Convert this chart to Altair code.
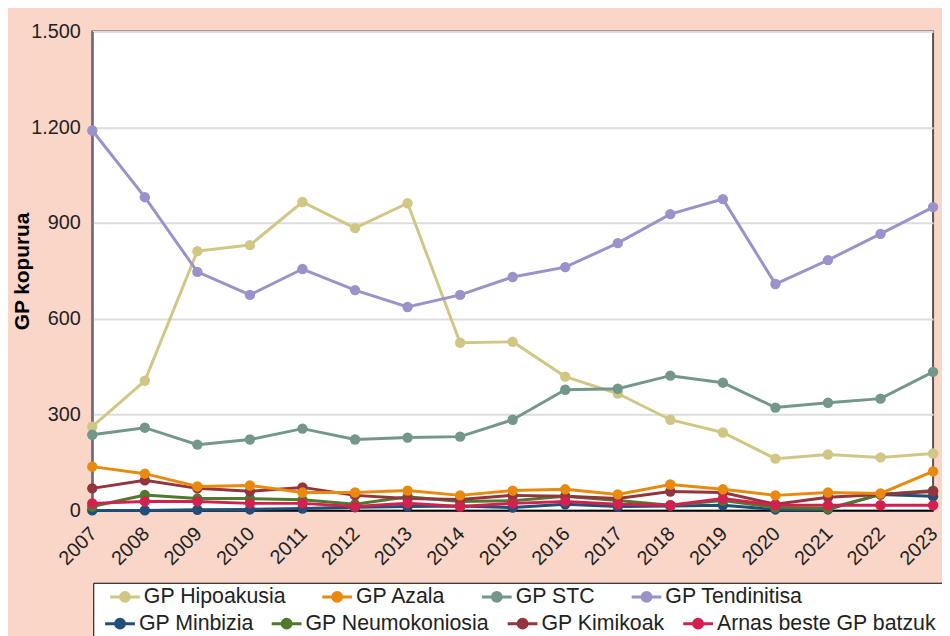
import altair as alt
import pandas as pd

years = list(range(2007, 2024))
row1_names = ["GP Hipoakusia", "GP Azala", "GP STC", "GP Tendinitisa"]
row1_colors = ["#D1C785", "#E98A0E", "#73978A", "#9B92C9"]
row2_names = ["GP Minbizia", "GP Neumokoniosia", "GP Kimikoak", "Arnas beste GP batzuk"]
row2_colors = ["#1F4F7A", "#4F7A2E", "#93343F", "#D4204F"]

hipoakusia = [262, 406, 812, 831, 966, 884, 962, 525, 528, 419, 366, 284, 244, 162, 175, 166, 178]
azala = [137, 115, 75, 78, 56, 56, 62, 47, 62, 66, 50, 81, 66, 47, 56, 53, 122]
stc = [237, 259, 206, 222, 256, 222, 228, 231, 284, 378, 381, 422, 400, 322, 337, 350, 434]
tendinitisa = [1190, 981, 747, 675, 756, 690, 637, 675, 731, 762, 837, 928, 975, 709, 784, 866, 950]
minbizia = [0, 0, 2, 3, 6, 10, 12, 14, 9, 19, 12, 14, 16, 3, 3, 50, 44]
neumokoniosia = [12, 48, 37, 37, 33, 19, 43, 28, 30, 44, 31, 16, 31, 9, 6, 50, 62]
kimikoak = [69, 94, 69, 60, 72, 47, 37, 34, 47, 44, 37, 59, 56, 19, 41, 50, 59]
arnas = [22, 28, 28, 22, 22, 12, 22, 12, 22, 28, 19, 16, 37, 16, 16, 16, 16]

row1_values = [hipoakusia, azala, stc, tendinitisa]
row2_values = [minbizia, neumokoniosia, kimikoak, arnas]


def long_table(names, series):
    rows = []
    for name, vals in zip(names, series):
        for y, v in zip(years, vals):
            rows.append({"year": str(y), "series": name, "value": v})
    return pd.DataFrame(rows)


df1 = long_table(row1_names, row1_values)
df2 = long_table(row2_names, row2_values)

FONT = "Liberation Sans"
SYMBOL = "M-1.6,0L1.6,0M0.48,0A0.48,0.48,0,1,1,-0.48,0A0.48,0.48,0,1,1,0.48,0Z"

x_enc = alt.X("year:O", scale=alt.Scale(type="point", padding=0),
              axis=alt.Axis(title=None, labelAngle=-45, labelFontSize=20, labelColor="#222",
                            ticks=False, domainColor="#000", domainWidth=2, labelPadding=13,
                            labelOffset=-6, labelFont=FONT, grid=False))
y_enc = alt.Y("value:Q", scale=alt.Scale(domain=[0, 1500], nice=False),
              axis=alt.Axis(values=[0, 300, 600, 900, 1200, 1500], title="GP kopurua",
                            labelExpr="replace(format(datum.value, ','), ',', '.')",
                            labelFontSize=20, labelColor="#222", labelFont=FONT,
                            ticks=False, labelPadding=12, domainColor="#6E6A80", domainWidth=2,
                            gridColor="#DDDDDD", gridWidth=2,
                            titleFont=FONT, titleFontSize=21, titleFontWeight="bold",
                            titleColor="#000", titleX=-60, titleBaseline="bottom"))

common_legend = dict(orient="none", direction="horizontal", labelFont=FONT,
                     labelFontSize=21.5, labelColor="#222", symbolType=SYMBOL,
                     symbolSize=352, symbolStrokeWidth=3, labelOffset=8, labelLimit=400)

line_kw = dict(strokeWidth=3, point=alt.OverlayMarkDef(size=110, filled=True, opacity=1))

# second legend row (drawn first, carries the white legend box)
layer_row2 = alt.Chart(df2).mark_line(**line_kw).encode(
    x=x_enc, y=y_enc,
    color=alt.Color("series:N", sort=row2_names,
                    scale=alt.Scale(domain=row2_names, range=row2_colors),
                    legend=alt.Legend(title=" ", titleFontSize=10, titlePadding=4,
                                      legendX=1, legendY=556, padding=16, columnPadding=11,
                                      fillColor="white", strokeColor="#000",
                                      **common_legend)),
)

# first legend row
layer_row1 = alt.Chart(df1).mark_line(**line_kw).encode(
    x=x_enc, y=y_enc,
    color=alt.Color("series:N", sort=row1_names,
                    scale=alt.Scale(domain=row1_names, range=row1_colors),
                    legend=alt.Legend(title=None, legendX=22, legendY=559, padding=0,
                                      columnPadding=29, **common_legend)),
)

chart = alt.layer(layer_row2, layer_row1).resolve_scale(
    color="independent"
).properties(
    width=848, height=483,
    autosize=alt.AutoSizeParams(type="none"),
    padding={"left": 85, "top": 21, "right": 9, "bottom": 124},
    background="#FAD6C8",
).configure_view(
    fill="white", stroke="#555", strokeWidth=2,
)

chart.save("out.html", embed_options={"renderer": "svg", "actions": False})
